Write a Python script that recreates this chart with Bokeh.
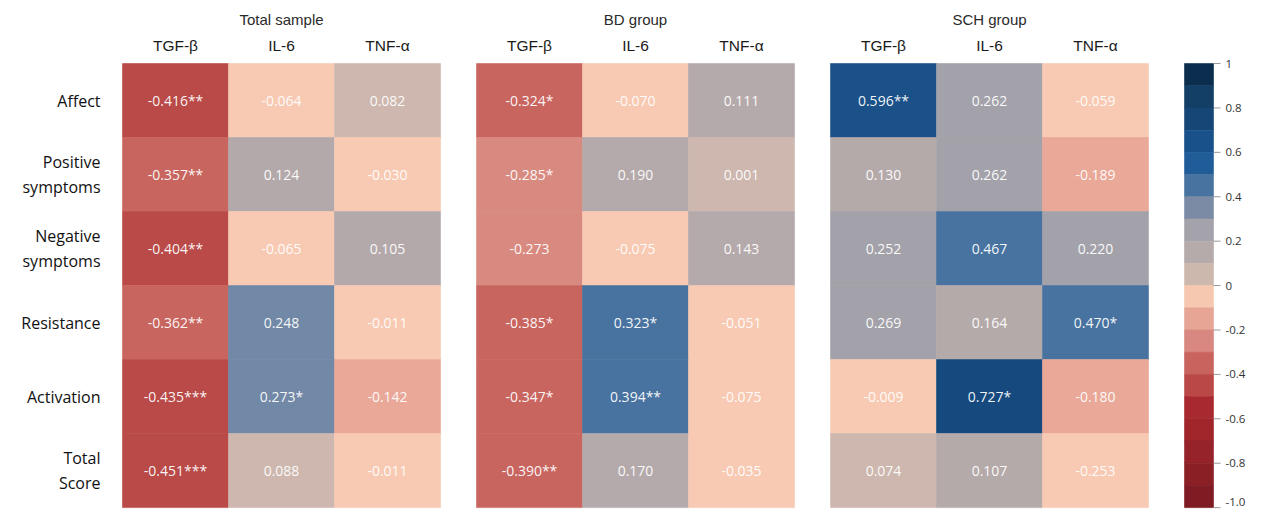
from bokeh.plotting import figure
from bokeh.models import Range1d, ColumnDataSource
from bokeh.embed import file_html
from bokeh.resources import INLINE
from bokeh.core.properties import value

# ---------------- data ----------------
groups = ["Total sample", "BD group", "SCH group"]
cytokines = ["TGF-β", "IL-6", "TNF-α"]
measures = ["Affect", "Positive\nsymptoms", "Negative\nsymptoms", "Resistance", "Activation", "Total\nScore"]

# rows = measures, columns = cytokines
total_r = [[-0.416, -0.064, 0.082],
           [-0.357, 0.124, -0.030],
           [-0.404, -0.065, 0.105],
           [-0.362, 0.248, -0.011],
           [-0.435, 0.273, -0.142],
           [-0.451, 0.088, -0.011]]
total_sig = [["**", "", ""], ["**", "", ""], ["**", "", ""],
             ["**", "", ""], ["***", "*", ""], ["***", "", ""]]

bd_r = [[-0.324, -0.070, 0.111],
        [-0.285, 0.190, 0.001],
        [-0.273, -0.075, 0.143],
        [-0.385, 0.323, -0.051],
        [-0.347, 0.394, -0.075],
        [-0.390, 0.170, -0.035]]
bd_sig = [["*", "", ""], ["*", "", ""], ["", "", ""],
          ["*", "*", ""], ["*", "**", ""], ["**", "", ""]]

sch_r = [[0.596, 0.262, -0.059],
         [0.130, 0.262, -0.189],
         [0.252, 0.467, 0.220],
         [0.269, 0.164, 0.470],
         [-0.009, 0.727, -0.180],
         [0.074, 0.107, -0.253]]
sch_sig = [["**", "", ""], ["", "", ""], ["", "", ""],
           ["", "", "*"], ["", "*", ""], ["", "", ""]]

colorbar_ticks = [1.0, 0.8, 0.6, 0.4, 0.2, 0.0, -0.2, -0.4, -0.6, -0.8, -1.0]
colorbar_tick_labels = ["1", "0.8", "0.6", "0.4", "0.2", "0", "-0.2", "-0.4", "-0.6", "-0.8", "-1.0"]

# ---------------- styles ----------------
# 20-step diverging palette, from +1 (top) down to -1 (bottom)
palette_top_down = ["#0b2d4e", "#133f66", "#164676", "#19518a", "#1f5c98",
                    "#4873a0", "#7b8ba6", "#a4a3ab", "#b6abab", "#cdb8ae",
                    "#f6c8b0", "#e6a595", "#d88880", "#c8635e", "#ba4846",
                    "#a82a30", "#a0262c", "#96222a", "#8b1f26", "#7f1b22"]

PEACH = "#f8cab3"
cell_colors = {
    "Total sample": [["#b94a48", PEACH, "#cdb7ae"],
                     ["#c9655f", "#b4a9aa", PEACH],
                     ["#b94a48", PEACH, "#b4a9aa"],
                     ["#c9655f", "#7188a6", PEACH],
                     ["#b94a48", "#7188a6", "#e9a898"],
                     ["#b94a48", "#cdb7ae", PEACH]],
    "BD group": [["#c9655f", PEACH, "#b4aaab"],
                 ["#d98a80", "#b4aaab", "#cdb7ae"],
                 ["#d98a80", PEACH, "#b4aaab"],
                 ["#c9655f", "#4873a0", PEACH],
                 ["#c9655f", "#4873a0", PEACH],
                 ["#c9655f", "#b4aaab", PEACH]],
    "SCH group": [["#1b5189", "#a3a2aa", PEACH],
                  ["#b5aaaa", "#a3a2aa", "#e9a898"],
                  ["#a3a2aa", "#4873a0", "#a3a2aa"],
                  ["#a3a2aa", "#b5aaaa", "#4873a0"],
                  [PEACH, "#164a7e", "#e9a898"],
                  ["#cdb7ae", "#b5aaaa", PEACH]],
}

panel_left = [122, 476, 830]
cell_w = 106
grid_top = 65
grid_bottom = 523
row_h = (grid_bottom - grid_top) / len(measures)

cb_left, cb_right = 1184, 1213

# ---------------- figure ----------------
p = figure(width=1247, height=511, x_range=Range1d(0, 1247), y_range=Range1d(527, 0),
           output_backend="svg", toolbar_location=None, min_border=0,
           x_axis_location=None, y_axis_location=None)
p.grid.visible = False
p.outline_line_color = None
p.background_fill_color = "white"
p.border_fill_color = "white"

all_r = {"Total sample": total_r, "BD group": bd_r, "SCH group": sch_r}
all_sig = {"Total sample": total_sig, "BD group": bd_sig, "SCH group": sch_sig}

xs, ys, cols, labels = [], [], [], []
for gi, g in enumerate(groups):
    for ri in range(len(measures)):
        for ci in range(len(cytokines)):
            xs.append(panel_left[gi] + (ci + 0.5) * cell_w)
            ys.append(grid_top + (ri + 0.5) * row_h)
            cols.append(cell_colors[g][ri][ci])
            labels.append(f"{all_r[g][ri][ci]:.3f}{all_sig[g][ri][ci]}")

src = ColumnDataSource(dict(x=xs, y=ys, color=cols, label=labels))
p.rect("x", "y", width=cell_w, height=row_h, source=src,
       fill_color="color", line_color="color", line_width=0.6)
p.text("x", "y", text="label", source=src, text_align="center", text_baseline="middle",
       text_font=value("Open Sans"), text_font_size="14px", text_color="white", text_alpha=0.95)

# row labels
p.text(x=[100] * len(measures), y=[grid_top + (i + 0.5) * row_h for i in range(len(measures))],
       text=measures, text_align="right", text_baseline="middle",
       text_font=value("Open Sans"), text_font_size="16px", text_color="#111111",
       text_line_height=1.12)

# group titles and column headers
p.text(x=[panel_left[i] + 1.5 * cell_w for i in range(len(groups))], y=[20] * len(groups),
       text=groups, text_align="center", text_baseline="middle",
       text_font=value("Liberation Sans"), text_font_size="15px", text_color="#2a2a2a")
hx, ht = [], []
for gi in range(len(groups)):
    for ci, c in enumerate(cytokines):
        hx.append(panel_left[gi] + (ci + 0.5) * cell_w)
        ht.append(c)
p.text(x=hx, y=[46] * len(hx), text=ht, text_align="center", text_baseline="middle",
       text_font=value("Liberation Sans"), text_font_size="15.5px", text_color="#1a1a1a")

# colour bar
n = len(palette_top_down)
cb_h = (grid_bottom - grid_top) / n
p.rect(x=[(cb_left + cb_right) / 2] * n, y=[grid_top + (k + 0.5) * cb_h for k in range(n)],
       width=cb_right - cb_left, height=cb_h, fill_color=palette_top_down,
       line_color=palette_top_down, line_width=0.6)

def cb_y(v):
    return grid_top + (1 - v) / 2 * (grid_bottom - grid_top)

ty = [cb_y(v) for v in colorbar_ticks]
p.segment(x0=[cb_right] * len(ty), y0=ty, x1=[cb_right + 7] * len(ty), y1=ty,
          line_color="#999999", line_width=1)
label_y = [min(y, grid_bottom - 6) for y in ty]
p.text(x=[cb_right + 12] * len(ty), y=label_y, text=colorbar_tick_labels, text_align="left",
       text_baseline="middle", text_font=value("Open Sans"), text_font_size="11.5px",
       text_color="#333333")

open("out.html", "w").write(file_html(p, INLINE))
